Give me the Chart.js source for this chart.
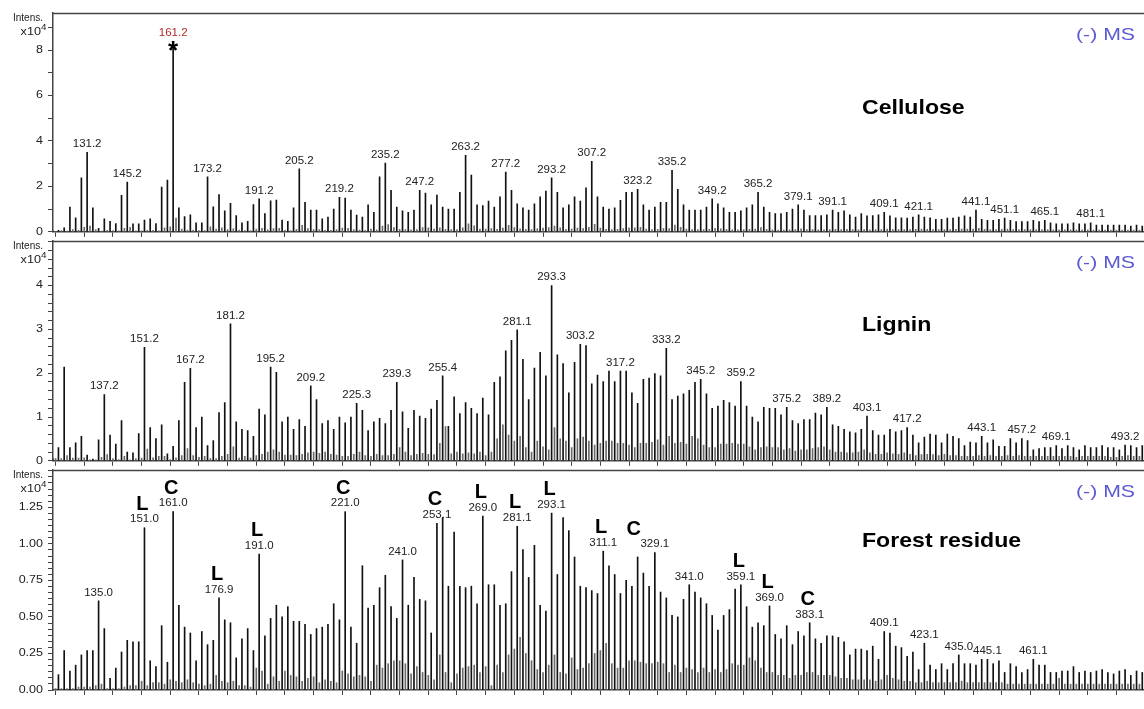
<!DOCTYPE html>
<html>
<head>
<meta charset="utf-8">
<title>(-) MS spectra: Cellulose, Lignin, Forest residue</title>
<script src="https://cdn.jsdelivr.net/npm/chart.js@4.4.1/dist/chart.umd.min.js"></script>
<style>
  html, body { margin: 0; padding: 0; background: #fff; overflow: hidden; }
  #wrap { position: relative; width: 1144px; height: 709px; overflow: hidden; }
  .panel { position: absolute; left: 0; width: 1150px; }
  #p1 { top: 0; height: 242px; }
  #p2 { top: 228px; height: 243px; }
  #p3 { top: 457px; height: 252px; }
</style>
</head>
<body>
<div id="wrap">
  <div class="panel" id="p1"><canvas id="cellulose" width="1150" height="242"></canvas></div>
  <div class="panel" id="p2"><canvas id="lignin" width="1150" height="243"></canvas></div>
  <div class="panel" id="p3"><canvas id="forest" width="1150" height="252"></canvas></div>
</div>
<script>
"use strict";

// m/z positions: odd masses carry the main peaks, even masses the small isotope peaks
const mzOdd = [];
for (let m = 119; m <= 499; m += 2) mzOdd.push(m);
const mzEven = [];
for (let m = 120; m <= 500; m += 2) mzEven.push(m);

// intensities in x10^4 (rows of 10 peaks)
const celluloseOdd = [
  0.03, 0.07, 0.17, 1.09, 0.61, 2.37, 3.5, 1.05, 0.15, 0.57,   // 119-137
  0.46, 0.36, 1.6, 2.19, 0.35, 0.35, 0.52, 0.57, 0.36, 1.97,   // 139-157
  2.28, 8.2, 1.05, 0.67, 0.75, 0.4, 0.4, 2.42, 1.1, 1.64,      // 159-177
  0.92, 1.25, 0.71, 0.4, 0.46, 1.2, 1.45, 0.8, 1.36, 1.4,      // 179-197
  0.52, 0.46, 1.05, 2.77, 1.3, 0.96, 0.96, 0.57, 0.65, 1.0,    // 199-217
  1.52, 1.48, 0.96, 0.74, 0.65, 1.19, 0.86, 2.42, 3.02, 1.83,  // 219-237
  1.09, 0.92, 0.86, 0.96, 1.83, 1.7, 1.19, 1.62, 1.09, 1.0,    // 239-257
  1.0, 1.74, 3.37, 2.5, 1.19, 1.15, 1.35, 1.09, 1.54, 2.63,    // 259-277
  1.83, 1.23, 1.05, 0.96, 1.23, 1.54, 1.79, 2.37, 1.74, 1.05,  // 279-297
  1.19, 1.54, 1.35, 1.93, 3.1, 1.54, 1.09, 1.0, 1.05, 1.39,    // 299-317
  1.74, 1.74, 1.87, 1.19, 0.96, 1.09, 1.3, 1.3, 2.71, 1.87,    // 319-337
  1.19, 0.96, 0.96, 0.96, 1.09, 1.45, 1.23, 1.05, 0.86, 0.86,  // 339-357
  0.92, 1.05, 1.19, 1.74, 1.09, 0.86, 0.8, 0.8, 0.86, 1.0,     // 359-377
  1.19, 0.96, 0.71, 0.71, 0.71, 0.75, 0.96, 0.86, 0.92, 0.75,  // 379-397
  0.65, 0.8, 0.7, 0.71, 0.75, 0.86, 0.7, 0.62, 0.62, 0.6,      // 399-417
  0.65, 0.75, 0.65, 0.62, 0.55, 0.55, 0.6, 0.6, 0.65, 0.7,     // 419-437
  0.65, 0.96, 0.55, 0.5, 0.5, 0.55, 0.6, 0.5, 0.45, 0.45,      // 439-457
  0.45, 0.5, 0.45, 0.5, 0.4, 0.35, 0.35, 0.35, 0.4, 0.35,      // 459-477
  0.35, 0.4, 0.3, 0.3, 0.3, 0.3, 0.3, 0.3, 0.25, 0.3,          // 479-497
  0.25                                                         // 499
];
const celluloseEven = [
  0.02, 0.05, 0.03, 0.1, 0.06, 0.2, 0.25, 0.1, 0.03, 0.06,     // 120-138
  0.05, 0.04, 0.15, 0.2, 0.04, 0.04, 0.06, 0.06, 0.04, 0.18,   // 140-158
  0.22, 0.6, 0.12, 0.08, 0.08, 0.05, 0.05, 0.22, 0.12, 0.17,   // 160-178
  0.1, 0.13, 0.08, 0.05, 0.05, 0.12, 0.15, 0.09, 0.14, 0.15,   // 180-198
  0.06, 0.05, 0.11, 0.28, 0.14, 0.1, 0.1, 0.06, 0.07, 0.1,     // 200-218
  0.16, 0.15, 0.1, 0.08, 0.07, 0.12, 0.09, 0.25, 0.32, 0.19,   // 220-238
  0.11, 0.1, 0.09, 0.1, 0.19, 0.18, 0.12, 0.17, 0.11, 0.1,     // 240-258
  0.1, 0.18, 0.35, 0.26, 0.12, 0.12, 0.14, 0.11, 0.16, 0.28,   // 260-278
  0.19, 0.13, 0.11, 0.1, 0.13, 0.16, 0.19, 0.25, 0.18, 0.11,   // 280-298
  0.12, 0.16, 0.14, 0.2, 0.33, 0.16, 0.11, 0.1, 0.11, 0.14,    // 300-318
  0.18, 0.18, 0.2, 0.12, 0.1, 0.11, 0.14, 0.14, 0.3, 0.2,      // 320-338
  0.12, 0.1, 0.1, 0.1, 0.11, 0.15, 0.13, 0.11, 0.09, 0.09,     // 340-358
  0.1, 0.11, 0.12, 0.19, 0.11, 0.09, 0.08, 0.08, 0.09, 0.1,    // 360-378
  0.13, 0.1, 0.1, 0.09, 0.09, 0.1, 0.11, 0.1, 0.11, 0.1,       // 380-398
  0.09, 0.1, 0.09, 0.1, 0.1, 0.12, 0.1, 0.1, 0.1, 0.1,         // 400-418
  0.11, 0.12, 0.11, 0.1, 0.1, 0.1, 0.1, 0.11, 0.12, 0.12,      // 420-438
  0.12, 0.15, 0.11, 0.1, 0.1, 0.11, 0.12, 0.1, 0.1, 0.1,       // 440-458
  0.1, 0.1, 0.1, 0.1, 0.09, 0.09, 0.09, 0.09, 0.09, 0.09,      // 460-478
  0.09, 0.08, 0.08, 0.08, 0.08, 0.08, 0.08, 0.08, 0.08, 0.08,  // 480-498
  0.08                                                         // 500
];

const ligninOdd = [
  0.05, 0.3, 2.14, 0.3, 0.41, 0.56, 0.13, 0.04, 0.48, 1.51,    // 119-137
  0.59, 0.38, 0.92, 0.2, 0.18, 0.62, 2.59, 0.76, 0.51, 0.82,   // 139-157
  0.16, 0.33, 0.92, 1.79, 2.11, 0.76, 1.0, 0.35, 0.46, 1.1,    // 159-177
  1.33, 3.13, 0.89, 0.72, 0.69, 0.56, 1.18, 1.05, 2.14, 2.02,  // 179-197
  0.89, 1.0, 0.72, 0.94, 0.79, 1.71, 1.4, 0.85, 0.92, 0.72,    // 199-217
  1.0, 0.87, 1.0, 1.31, 1.15, 0.69, 0.89, 0.97, 0.85, 1.15,    // 219-237
  1.79, 1.12, 0.74, 1.15, 1.02, 0.97, 1.18, 1.38, 1.94, 0.79,  // 239-257
  1.46, 1.08, 1.33, 1.2, 1.08, 1.43, 1.05, 1.79, 1.92, 2.51,   // 259-277
  2.75, 2.99, 2.32, 1.4, 2.12, 2.48, 1.94, 4.0, 2.42, 2.22,    // 279-297
  1.55, 2.25, 2.66, 2.63, 1.76, 1.96, 1.81, 2.05, 1.81, 2.05,  // 299-317
  2.05, 1.55, 1.31, 1.86, 1.89, 1.99, 1.94, 2.57, 1.4, 1.48,   // 319-337
  1.53, 1.61, 1.79, 1.86, 1.53, 1.2, 1.25, 1.38, 1.33, 1.25,   // 339-357
  1.81, 1.25, 1.0, 0.89, 1.22, 1.2, 1.2, 1.05, 1.22, 0.92,     // 359-377
  0.85, 0.94, 0.94, 1.09, 1.05, 1.22, 0.82, 0.79, 0.72, 0.66,  // 379-397
  0.64, 0.72, 1.02, 0.69, 0.59, 0.59, 0.72, 0.66, 0.69, 0.76,  // 399-417
  0.59, 0.41, 0.54, 0.61, 0.59, 0.41, 0.61, 0.56, 0.51, 0.35,  // 419-437
  0.43, 0.41, 0.56, 0.41, 0.48, 0.33, 0.33, 0.51, 0.41, 0.51,  // 439-457
  0.46, 0.25, 0.28, 0.3, 0.3, 0.35, 0.28, 0.35, 0.3, 0.25,     // 459-477
  0.35, 0.3, 0.3, 0.35, 0.3, 0.3, 0.25, 0.36, 0.35, 0.3,       // 479-497
  0.35                                                         // 499
];
const ligninEven = [
  0.05, 0.05, 0.12, 0.06, 0.06, 0.07, 0.02, 0.02, 0.08, 0.14,  // 120-138
  0.05, 0.03, 0.1, 0.02, 0.05, 0.06, 0.27, 0.07, 0.1, 0.1,     // 140-158
  0.03, 0.07, 0.12, 0.28, 0.12, 0.08, 0.1, 0.05, 0.05, 0.1,    // 160-178
  0.15, 0.32, 0.06, 0.1, 0.06, 0.12, 0.15, 0.2, 0.25, 0.2,     // 180-198
  0.13, 0.13, 0.12, 0.15, 0.18, 0.2, 0.17, 0.2, 0.15, 0.13,    // 200-218
  0.1, 0.1, 0.15, 0.2, 0.12, 0.1, 0.15, 0.12, 0.12, 0.15,      // 220-238
  0.3, 0.2, 0.12, 0.15, 0.17, 0.15, 0.14, 0.4, 0.78, 0.16,     // 240-258
  0.2, 0.16, 0.18, 0.16, 0.2, 0.12, 0.2, 0.5, 0.82, 0.59,      // 260-278
  0.45, 0.56, 0.3, 0.2, 0.45, 0.32, 0.25, 0.76, 0.5, 0.45,     // 280-298
  0.3, 0.5, 0.54, 0.45, 0.36, 0.4, 0.45, 0.45, 0.4, 0.4,       // 300-318
  0.36, 0.3, 0.4, 0.4, 0.42, 0.48, 0.36, 0.56, 0.4, 0.42,      // 320-338
  0.38, 0.56, 0.5, 0.36, 0.3, 0.3, 0.38, 0.38, 0.4, 0.38,      // 340-358
  0.38, 0.32, 0.25, 0.3, 0.32, 0.3, 0.3, 0.25, 0.28, 0.22,     // 360-378
  0.25, 0.25, 0.28, 0.3, 0.32, 0.25, 0.2, 0.2, 0.18, 0.18,     // 380-398
  0.2, 0.25, 0.18, 0.15, 0.15, 0.18, 0.16, 0.15, 0.18, 0.15,   // 400-418
  0.12, 0.14, 0.15, 0.14, 0.12, 0.15, 0.12, 0.12, 0.1, 0.1,    // 420-438
  0.1, 0.12, 0.1, 0.12, 0.1, 0.1, 0.12, 0.1, 0.12, 0.1,        // 440-458
  0.1, 0.1, 0.1, 0.1, 0.1, 0.1, 0.1, 0.1, 0.08, 0.1,           // 460-478
  0.1, 0.1, 0.1, 0.1, 0.08, 0.08, 0.1, 0.12, 0.1, 0.1,         // 480-498
  0.1                                                          // 500
];

const forestOdd = [
  0, 0.105, 0.27, 0.13, 0.17, 0.24, 0.27, 0.27, 0.61, 0.42,    // 119-137
  0.08, 0.15, 0.26, 0.34, 0.33, 0.33, 1.11, 0.2, 0.16, 0.44,   // 139-157
  0.19, 1.22, 0.58, 0.43, 0.39, 0.2, 0.4, 0.31, 0.34, 0.63,    // 159-177
  0.48, 0.46, 0.22, 0.35, 0.42, 0.27, 0.93, 0.37, 0.49, 0.58,  // 179-197
  0.5, 0.57, 0.47, 0.47, 0.45, 0.38, 0.42, 0.43, 0.45, 0.59,   // 199-217
  0.48, 1.22, 0.43, 0.32, 0.85, 0.56, 0.58, 0.7, 0.785, 0.57,  // 219-237
  0.49, 0.89, 0.58, 0.77, 0.62, 0.61, 0.39, 1.14, 1.18, 0.71,  // 239-257
  1.08, 0.71, 0.7, 0.71, 0.59, 1.19, 0.72, 0.72, 0.58, 0.59,   // 259-277
  0.81, 1.12, 0.96, 0.77, 0.99, 0.58, 0.54, 1.21, 0.79, 1.18,  // 279-297
  1.09, 0.91, 0.71, 0.7, 0.68, 0.66, 0.95, 0.85, 0.79, 0.66,   // 299-317
  0.75, 0.71, 0.91, 0.8, 0.71, 0.94, 0.67, 0.63, 0.51, 0.5,    // 319-337
  0.62, 0.72, 0.67, 0.63, 0.59, 0.51, 0.41, 0.51, 0.55, 0.69,  // 339-357
  0.72, 0.57, 0.43, 0.46, 0.44, 0.575, 0.38, 0.35, 0.44, 0.31, // 359-377
  0.4, 0.37, 0.46, 0.35, 0.32, 0.37, 0.37, 0.36, 0.33, 0.24,   // 379-397
  0.28, 0.28, 0.27, 0.3, 0.21, 0.4, 0.39, 0.3, 0.29, 0.23,     // 399-417
  0.26, 0.14, 0.32, 0.17, 0.14, 0.18, 0.14, 0.18, 0.24, 0.18,  // 419-437
  0.18, 0.17, 0.21, 0.21, 0.18, 0.2, 0.12, 0.18, 0.16, 0.12,   // 439-457
  0.14, 0.21, 0.17, 0.17, 0.12, 0.12, 0.13, 0.13, 0.16, 0.12,  // 459-477
  0.13, 0.12, 0.13, 0.14, 0.12, 0.11, 0.13, 0.14, 0.1, 0.13,   // 479-497
  0.12                                                         // 499
];
const forestEven = [
  0.01, 0.01, 0.01, 0.01, 0.02, 0.02, 0.02, 0.03, 0.04, 0.01,  // 120-138
  0.01, 0.01, 0.02, 0.03, 0.03, 0.06, 0.03, 0.05, 0.05, 0.04,  // 140-158
  0.07, 0.06, 0.05, 0.07, 0.05, 0.04, 0.03, 0.04, 0.1, 0.06,   // 160-178
  0.05, 0.06, 0.03, 0.03, 0.02, 0.15, 0.13, 0.04, 0.09, 0.06,  // 180-198
  0.13, 0.1, 0.09, 0.06, 0.08, 0.09, 0.05, 0.07, 0.06, 0.05,   // 200-218
  0.13, 0.11, 0.09, 0.1, 0.09, 0.06, 0.17, 0.15, 0.18, 0.2,    // 220-238
  0.2, 0.18, 0.11, 0.16, 0.12, 0.1, 0.07, 0.24, 0.12, 0.05,    // 240-258
  0.11, 0.15, 0.16, 0.17, 0.12, 0.16, 0.03, 0.17, 0.12, 0.24,  // 260-278
  0.28, 0.36, 0.25, 0.2, 0.14, 0.12, 0.17, 0.24, 0.12, 0.11,   // 280-298
  0.22, 0.14, 0.15, 0.18, 0.25, 0.27, 0.32, 0.18, 0.15, 0.15,  // 300-318
  0.2, 0.2, 0.19, 0.18, 0.18, 0.19, 0.18, 0.12, 0.17, 0.12,    // 320-338
  0.15, 0.14, 0.12, 0.15, 0.12, 0.14, 0.12, 0.14, 0.18, 0.17,  // 340-358
  0.17, 0.22, 0.2, 0.15, 0.12, 0.12, 0.1, 0.1, 0.08, 0.1,      // 360-378
  0.1, 0.12, 0.12, 0.1, 0.1, 0.1, 0.09, 0.08, 0.08, 0.07,      // 380-398
  0.07, 0.07, 0.07, 0.06, 0.07, 0.1, 0.08, 0.07, 0.06, 0.06,   // 400-418
  0.05, 0.05, 0.06, 0.05, 0.05, 0.05, 0.05, 0.05, 0.06, 0.05,  // 420-438
  0.05, 0.05, 0.05, 0.05, 0.05, 0.05, 0.04, 0.04, 0.04, 0.04,  // 440-458
  0.04, 0.04, 0.04, 0.04, 0.04, 0.08, 0.04, 0.04, 0.04, 0.04,  // 460-478
  0.04, 0.04, 0.04, 0.04, 0.04, 0.04, 0.04, 0.04, 0.04, 0.04,  // 480-498
  0.04                                                         // 500
];

// annotated peaks
const celluloseLabels = ['131.2', '145.2', '161.2', '173.2', '191.2', '205.2', '219.2', '235.2', '247.2',
  '263.2', '277.2', '293.2', '307.2', '323.2', '335.2', '349.2', '365.2', '379.1', '391.1', '409.1',
  '421.1', '441.1', '451.1', '465.1', '481.1'];
const ligninLabels = ['137.2', '151.2', '167.2', '181.2', '195.2', '209.2', '225.3', '239.3', '255.4',
  '281.1', '293.3', '303.2', '317.2', '333.2', '345.2', '359.2', '375.2', '389.2', '403.1', '417.2',
  '443.1', '457.2', '469.1', '493.2'];
const forestLabels = ['135.0', '151.0', '161.0', '176.9', '191.0', '221.0', '241.0', '253.1', '269.0',
  '281.1', '293.1', '311.1', '329.1', '341.0', '359.1', '369.0', '383.1', '409.1', '423.1', '435.0',
  '445.1', '461.1'];
const forestTags = ['', 'L', 'C', 'L', 'L', 'C', '', 'C', 'L', 'L', 'L', 'L', 'C', '', 'L', 'L', 'C',
  '', '', '', '', ''];

// axis ticks
const xTicks = [];
for (let m = 120; m <= 500; m += 10) xTicks.push(m);
const xLabelTicks = [150, 200, 250, 300, 350, 400, 450];

const FONT = '"Liberation Sans", Arial, Helvetica, sans-serif';
Chart.defaults.font.family = FONT;
Chart.defaults.color = '#222';

function toPoints(mz, vals) {
  return mz.map((m, i) => ({ x: m, y: vals[i] }));
}

// the original print is slightly stretched sideways, so texts get an x scale
function wideText(ctx, s, x, y, align, sx) {
  ctx.save();
  ctx.translate(x, y);
  ctx.scale(sx, 1);
  ctx.textAlign = align;
  ctx.fillText(s, 0, 0);
  ctx.restore();
}

// frame line, axis numbers, header texts and peak annotations
const panelDecor = {
  id: 'panelDecor',
  afterDraw(chart, args, opts) {
    const ctx = chart.ctx;
    const a = chart.chartArea;
    const xs = chart.scales.x, ys = chart.scales.y;
    ctx.save();

    ctx.strokeStyle = '#444';
    ctx.lineWidth = 1.5;
    ctx.beginPath();
    ctx.moveTo(a.left, a.top + 0.5);
    ctx.lineTo(a.right, a.top + 0.5);
    ctx.stroke();

    // y numbers
    ctx.fillStyle = '#222';
    ctx.font = '10px ' + FONT;
    ctx.textBaseline = 'middle';
    ys.ticks.forEach(t => {
      const s = opts.yLabel(t.value);
      if (s) wideText(ctx, s, 43, ys.getPixelForValue(t.value), 'right', 1.25);
    });
    // x numbers (bottom panel only)
    if (opts.xLabels) {
      xLabelTicks.forEach(v => wideText(ctx, String(v), xs.getPixelForValue(v), 705, 'center', 1.25));
      ctx.textBaseline = 'middle';
      wideText(ctx, 'm/z', 1128, 705, 'left', 1.2);
    }

    ctx.font = '10px ' + FONT;
    wideText(ctx, 'Intens.', 43, a.top + 5, 'right', 1.0);
    ctx.font = '11px ' + FONT;
    wideText(ctx, 'x10', 41, a.top + 19, 'right', 1.15);
    ctx.font = '9px ' + FONT;
    wideText(ctx, '4', 41, a.top + 15, 'left', 1.1);

    ctx.fillStyle = '#5a5ad2';
    ctx.font = '17px ' + FONT;
    wideText(ctx, '(-) MS', 1135, a.top + 22, 'right', 1.25);

    ctx.fillStyle = '#000';
    ctx.font = 'bold 21px ' + FONT;
    wideText(ctx, opts.title, 862, a.top + opts.titleDy, 'left', 1.1);

    opts.labels.forEach((txt, i) => {
      const m = Math.round(parseFloat(txt));
      const v = opts.values[(m - 119) / 2];
      const px = xs.getPixelForValue(m);
      const py = ys.getPixelForValue(v);
      let base = py - 3;
      ctx.fillStyle = '#222';
      if (txt === opts.starred) {
        ctx.fillStyle = '#000';
        ctx.font = 'bold 26px ' + FONT;
        ctx.textBaseline = 'middle';
        wideText(ctx, '*', px, py + 6, 'center', 1.0);
        base = py - 7;
        ctx.fillStyle = '#b02a2a';
      }
      ctx.font = '10px ' + FONT;
      ctx.textBaseline = 'bottom';
      wideText(ctx, txt, px, base, 'center', 1.15);
      const tag = opts.tags ? opts.tags[i] : '';
      if (tag) {
        const shift = (opts.tagShift && opts.tagShift[txt]) || -2;
        ctx.fillStyle = '#000';
        ctx.font = 'bold 20px ' + FONT;
        ctx.textBaseline = 'alphabetic';
        wideText(ctx, tag, px + shift, base - 15, 'center', 1.0);
      }
    });
    ctx.restore();
  }
};

function makePanel(id, odd, even, cfg) {
  return new Chart(document.getElementById(id), {
    type: 'bar',
    data: {
      datasets: [
        { data: toPoints(mzEven, even), backgroundColor: '#6a6a6a', barThickness: 1, grouped: false, borderWidth: 0 },
        { data: toPoints(mzOdd, odd), backgroundColor: '#111', barThickness: 1, grouped: false, borderWidth: 0 }
      ]
    },
    options: {
      responsive: false,
      animation: false,
      devicePixelRatio: 1,
      layout: { padding: { top: 13, right: 4, left: 0, bottom: 0 } },
      plugins: {
        legend: { display: false },
        tooltip: { enabled: false },
        panelDecor: Object.assign({ yLabel: cfg.yLabel, xLabels: cfg.xLabels }, cfg.decor)
      },
      scales: {
        x: {
          type: 'linear',
          min: 119.1,
          max: 500.3,
          offset: false,
          grid: { drawOnChartArea: false, offset: false, tickLength: 5, color: '#444', tickColor: '#444' },
          border: { color: '#444', width: 1.5 },
          ticks: { autoSkip: false, maxRotation: 0, callback: () => '' },
          afterBuildTicks: (axis) => { axis.ticks = xTicks.map(v => ({ value: v })); },
          afterFit: (axis) => { axis.height = cfg.xHeight; }
        },
        y: {
          min: 0,
          max: cfg.yMax,
          grid: { drawOnChartArea: false, tickLength: 5, color: '#444', tickColor: '#444' },
          border: { color: '#444', width: 1.5 },
          ticks: { autoSkip: false, callback: () => '' },
          afterBuildTicks: (axis) => { axis.ticks = cfg.yTicks.map(v => ({ value: v })); },
          afterFit: (axis) => { axis.width = 53; }
        }
      }
    },
    plugins: [panelDecor]
  });
}

const near = (a, b) => Math.abs(a - b) < 1e-6;

const yTicks1 = [0, 1, 2, 3, 4, 5, 6, 7, 8, 9];
const yTicks2 = [];
for (let i = 0; i <= 25; i++) yTicks2.push(i / 5);
const yTicks3 = [];
for (let i = 0; i <= 36; i++) yTicks3.push(i / 24);

makePanel('cellulose', celluloseOdd, celluloseEven, {
  yMax: 9.63,
  yTicks: yTicks1,
  yLabel: (v) => (v % 2 === 0 ? String(v) : ''),
  xHeight: 8,
  xLabels: false,
  decor: { title: 'Cellulose', titleDy: 95, labels: celluloseLabels, values: celluloseOdd, starred: '161.2' }
});

makePanel('lignin', ligninOdd, ligninEven, {
  yMax: 5.02,
  yTicks: yTicks2,
  yLabel: (v) => (v <= 4 && near(v, Math.round(v)) ? String(Math.round(v)) : ''),
  xHeight: 8,
  xLabels: false,
  decor: { title: 'Lignin', titleDy: 84, labels: ligninLabels, values: ligninOdd }
});

makePanel('forest', forestOdd, forestEven, {
  yMax: 1.505,
  yTicks: yTicks3,
  yLabel: (v) => (v <= 1.26 && near(v * 4, Math.round(v * 4)) ? v.toFixed(2) : ''),
  xHeight: 19,
  xLabels: true,
  decor: {
    title: 'Forest residue', titleDy: 71, labels: forestLabels, values: forestOdd,
    tags: forestTags, tagShift: { '329.1': -21 }
  }
});
</script>
</body>
</html>
